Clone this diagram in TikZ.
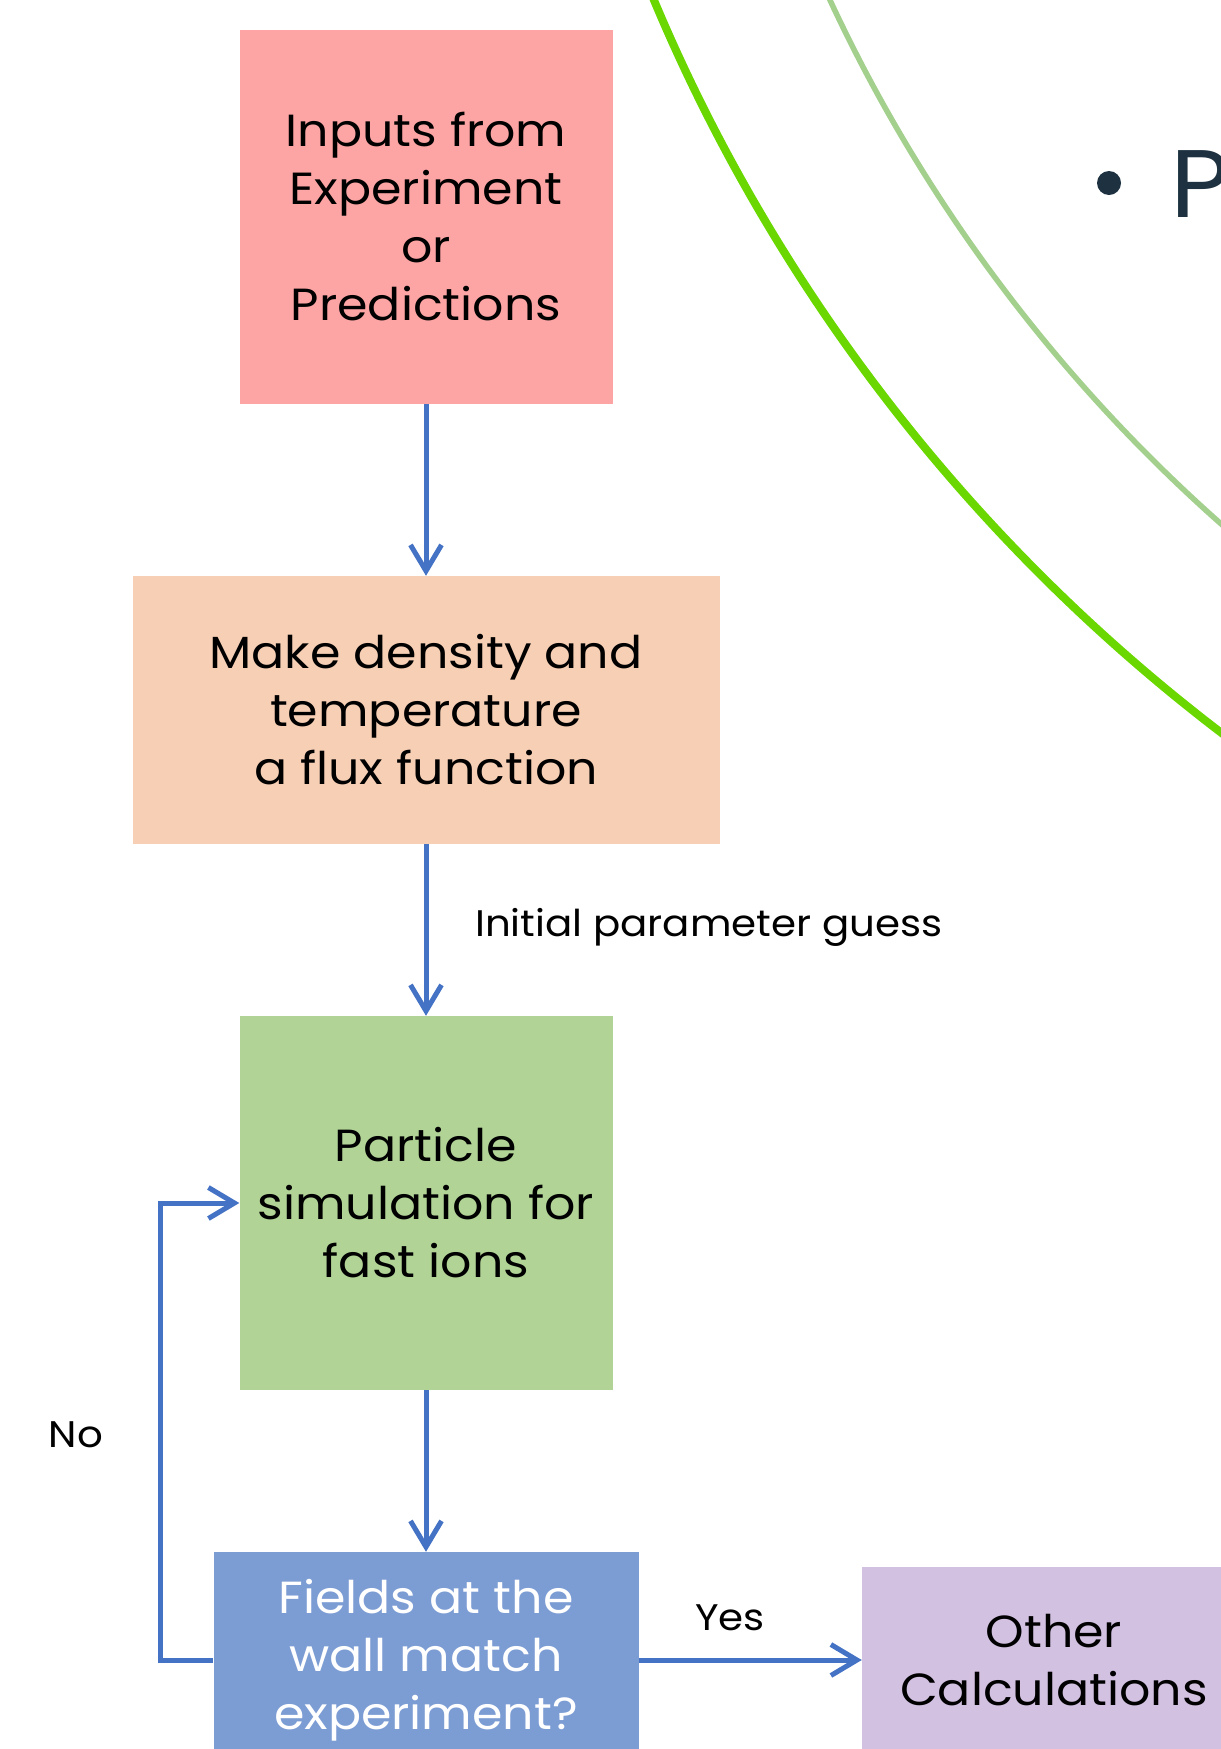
\documentclass[tikz,border=0pt]{standalone}
\usepackage{fontspec}
\setmainfont{Poppins}[FakeStretch=1.09]
\usetikzlibrary{arrows.meta,positioning}
\definecolor{pinkbox}{HTML}{FDA4A4}
\definecolor{peachbox}{HTML}{F7CFB5}
\definecolor{greenbox}{HTML}{B1D496}
\definecolor{bluebox}{HTML}{7C9CD4}
\definecolor{purplebox}{HTML}{D3C1E2}
\definecolor{arrowblue}{HTML}{4472C4}
\definecolor{brightgreen}{HTML}{6AD800}
\definecolor{palegreen}{HTML}{A3D08C}
\definecolor{navytext}{HTML}{1D3140}
\tikzset{
  box/.style={rectangle, inner sep=0pt, align=center, text=black,
    font=\fontsize{45}{58}\selectfont},
  arr/.style={draw=arrowblue, line width=5pt,
    -{Straight Barb[length=26pt,width=31pt,line width=5pt]}},
  lbl/.style={inner sep=0pt, text=black, font=\fontsize{37}{44}\selectfont},
}
\begin{document}
\begin{tikzpicture}[x=1pt,y=-1pt]
\useasboundingbox (0,0) rectangle (1221,1749);
\clip (0,0) rectangle (1221,1749);
% background arcs
\draw[brightgreen, line width=8pt] (2307,-693) circle (1792pt);
\draw[palegreen, line width=5.5pt] (2278,-672) circle (1596pt);
% bullet
\fill[navytext] (1109,183) circle (12pt);
\node[inner sep=0pt, anchor=base west, text=navytext, font=\fontsize{96}{110}\selectfont] (ptext) at (1170,217) {P};
% boxes
\node[box, fill=pinkbox, minimum width=373pt, minimum height=374pt] (pink) at (426,217)
  {Inputs from\\Experiment\\or\\Predictions};
\node[box, fill=peachbox, minimum width=587pt, minimum height=268pt] (peach) at (426,710)
  {Make density and\\temperature\\a flux function};
\node[box, fill=greenbox, minimum width=373pt, minimum height=374pt] (green) at (426,1203)
  {Particle\\simulation for\\fast ions};
\node[box, fill=bluebox, text=white, minimum width=425pt, minimum height=216pt] (blue) at (426,1660)
  {Fields at the\\wall match\\experiment?};
\node[box, fill=purplebox, minimum width=384pt, minimum height=186pt] (purple) at (1054,1660)
  {Other\\Calculations};
% connectors
\draw[arr] (pink.south) -- (peach.north);
\draw[arr] (peach.south) -- (green.north);
\draw[arr] (green.south) -- (blue.north);
\draw[arr] (blue.west) -- ++(-53,0) |- (green.west);
\draw[arr] (blue.east) -- (purple.west);
% labels
\node[lbl, anchor=west] (guess) at (475,927) {Initial parameter guess};
\node[lbl] (no) at (76,1435) {No};
\node[lbl] (yes) at (730,1618) {Yes};
\end{tikzpicture}
\end{document}
